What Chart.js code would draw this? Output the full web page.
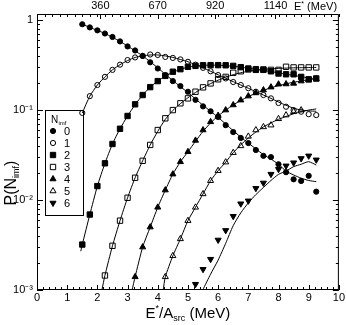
<!DOCTYPE html>
<html lang="en">
<head>
<meta charset="UTF-8">
<title>P(N_imf) vs E*/A_src</title>
<script src="https://cdn.jsdelivr.net/npm/chart.js"></script>
<style>
  html, body { margin: 0; padding: 0; background: #fff; }
  #wrap { width: 346px; height: 325px; }
</style>
</head>
<body>
<div id="wrap"><canvas id="chart" width="346" height="325"></canvas></div>
<script>
// E*/A_src bins (MeV)
const eBins = [1.5, 1.75, 2.0, 2.25, 2.5, 2.75, 3.0, 3.25, 3.5, 3.75, 4.0, 4.25, 4.5, 4.75, 5.0, 5.25,
               5.5, 5.75, 6.0, 6.25, 6.5, 6.75, 7.0, 7.25, 7.5, 7.75, 8.0, 8.25, 8.5, 8.75, 9.0, 9.25];

// measured P(N_imf), one array per N_imf (null = no point)
const p0 = [0.90, 0.83, 0.77, 0.71, 0.65, 0.58, 0.51, 0.46, 0.40, 0.34, 0.29, 0.245, 0.21, 0.185, 0.16, 0.13,
            0.11, 0.097, 0.084, 0.068, 0.057, 0.049, 0.043, 0.036, 0.031, 0.030, 0.025, 0.0204, 0.017, 0.0163, 0.0186, 0.0124];
const p1 = [0.093, 0.143, 0.19, 0.234, 0.28, 0.32, 0.36, 0.385, 0.40, 0.415, 0.41, 0.39, 0.38, 0.366, 0.344, 0.32,
            0.295, 0.27, 0.245, 0.225, 0.205, 0.19, 0.175, 0.16, 0.147, 0.135, 0.12, 0.109, 0.10, 0.096, 0.09, 0.088];
const p2 = [0.0032, 0.0069, 0.0143, 0.0256, 0.042, 0.062, 0.086, 0.116, 0.147, 0.18, 0.21, 0.24, 0.267, 0.285, 0.303, 0.31,
            0.315, 0.316, 0.316, 0.315, 0.31, 0.30, 0.29, 0.28, 0.28, 0.27, 0.255, 0.25, 0.25, 0.234, 0.22, 0.225];
const p3 = [null, null, null, 0.00145, 0.0031, 0.0059, 0.0106, 0.0177, 0.0273, 0.041, 0.06, 0.081, 0.10, 0.119, 0.135, 0.16,
            0.179, 0.198, 0.22, 0.234, 0.26, 0.27, 0.283, 0.285, 0.283, 0.28, 0.28, 0.303, 0.298, 0.298, 0.298, 0.298];
const p4 = [null, null, null, null, null, null, null, 0.0014, 0.003, 0.005, 0.0083, 0.0129, 0.0194, 0.0266, 0.0344, 0.046,
            0.06, 0.074, 0.087, 0.10, 0.114, 0.129, 0.143, 0.155, 0.167, 0.18, 0.194, 0.195, 0.198, 0.21, 0.215, 0.22];
const p5 = [null, null, null, null, null, null, null, null, null, null, null, 0.0014, 0.0024, 0.0037, 0.0059, 0.0083,
            0.0117, 0.0164, 0.0212, 0.0264, 0.0336, 0.040, 0.051, 0.06, 0.065, 0.068, 0.08, 0.088, 0.096, 0.10, null, null];
const p6 = [null, null, null, null, null, null, null, null, null, null, null, null, null, null, null, 0.00116,
            0.0017, 0.0022, 0.0036, 0.0046, 0.0066, 0.0091, 0.0098, 0.0135, 0.0155, 0.0194, 0.022, 0.024, 0.026, 0.029, 0.031, 0.028];

// model curves
const m0x = eBins;
const m0y = [0.90, 0.83, 0.77, 0.71, 0.645, 0.58, 0.515, 0.455, 0.40, 0.345, 0.295, 0.25, 0.213, 0.182, 0.157, 0.133,
             0.113, 0.097, 0.083, 0.07, 0.059, 0.05, 0.043, 0.037, 0.032, 0.0285, 0.025, 0.021, 0.019, 0.0175, 0.0165, 0.016];
const m1x = eBins;
const m1y = [0.093, 0.143, 0.19, 0.234, 0.28, 0.32, 0.355, 0.385, 0.40, 0.41, 0.41, 0.40, 0.385, 0.365, 0.345, 0.32,
             0.295, 0.27, 0.247, 0.226, 0.207, 0.19, 0.175, 0.16, 0.147, 0.135, 0.123, 0.113, 0.105, 0.10, 0.098, 0.097];
const m2x = [1.45, 1.5, 1.75, 2.0, 2.25, 2.5, 2.75, 3.0, 3.25, 3.5, 3.75, 4.0, 4.25, 4.5, 4.75, 5.0, 5.25,
             5.5, 5.75, 6.0, 6.25, 6.5, 6.75, 7.0, 7.25, 7.5, 7.75, 8.0, 8.25, 8.5, 8.75, 9.0, 9.25];
const m2y = [0.0027, 0.0032, 0.0069, 0.0143, 0.0256, 0.042, 0.062, 0.086, 0.115, 0.147, 0.18, 0.21, 0.238, 0.263, 0.284, 0.30, 0.31,
             0.315, 0.316, 0.315, 0.312, 0.307, 0.30, 0.292, 0.284, 0.276, 0.268, 0.259, 0.251, 0.243, 0.235, 0.228, 0.222];
const m3x = [2.15, 2.25, 2.5, 2.75, 3.0, 3.25, 3.5, 3.75, 4.0, 4.25, 4.5, 4.75, 5.0, 5.25,
             5.5, 5.75, 6.0, 6.25, 6.5, 6.75, 7.0, 7.25, 7.5, 7.75, 8.0, 8.25, 8.5, 8.75, 9.0, 9.25];
const m3y = [0.001, 0.00145, 0.0031, 0.0059, 0.0106, 0.0177, 0.0273, 0.041, 0.058, 0.079, 0.099, 0.118, 0.137, 0.157,
             0.177, 0.197, 0.215, 0.232, 0.247, 0.26, 0.27, 0.278, 0.284, 0.288, 0.291, 0.293, 0.295, 0.296, 0.297, 0.298];
const m4x = [3.15, 3.25, 3.5, 3.75, 4.0, 4.25, 4.5, 4.75, 5.0, 5.25,
             5.5, 5.75, 6.0, 6.25, 6.5, 6.75, 7.0, 7.25, 7.5, 7.75, 8.0, 8.25, 8.5, 8.75, 9.0, 9.25];
const m4y = [0.001, 0.0014, 0.003, 0.005, 0.0083, 0.0129, 0.0194, 0.0266, 0.0344, 0.045,
             0.058, 0.072, 0.086, 0.10, 0.114, 0.128, 0.141, 0.154, 0.166, 0.177, 0.187, 0.196, 0.204, 0.211, 0.217, 0.222];
const m5x = [4.18, 4.25, 4.5, 4.75, 5.0, 5.25, 5.5, 5.75, 6.0, 6.25, 6.5, 6.75, 7.0, 7.25, 7.5, 7.75, 8.0, 8.25, 8.5, 8.75, 9.0, 9.25];
const m5y = [0.001, 0.0014, 0.0024, 0.0037, 0.0059, 0.0083, 0.0117, 0.0164, 0.0212, 0.0264, 0.0336, 0.041, 0.049, 0.057,
             0.065, 0.072, 0.079, 0.085, 0.091, 0.096, 0.10, 0.103];
const m6x = [5.49, 5.75, 6.0, 6.25, 6.5, 6.75, 7.0, 7.25, 7.5, 7.75, 8.0, 8.25, 8.5, 8.75, 9.0, 9.25];
const m6y = [0.001, 0.0015, 0.00215, 0.0033, 0.0052, 0.0072, 0.0093, 0.0115, 0.0138, 0.0165, 0.0193, 0.021, 0.0235, 0.025, 0.0267, 0.0245];

// axis ticks
const yTickVals = [0.001, 0.01, 0.1, 1];
const yTickLabels = ['10\u207B\u00B3', '10\u207B\u00B2', '10\u207B\u00B9', '1'];
const topTickPos = [2.1, 4.0, 5.9, 7.9];
const topTickLabels = ['360', '670', '920', '1140'];

const FONT = "'Liberation Sans', Arial, sans-serif";

// marker styles per N_imf
const markers = [
  { n: '0', data: p0, style: 'circle', r: 2.6, filled: true, rot: 0 },
  { n: '1', data: p1, style: 'circle', r: 2.6, filled: false, rot: 0 },
  { n: '2', data: p2, style: 'rect', r: 3.8, filled: true, rot: 0 },
  { n: '3', data: p3, style: 'rect', r: 3.8, filled: false, rot: 0 },
  { n: '4', data: p4, style: 'triangle', r: 3.5, filled: true, rot: 0 },
  { n: '5', data: p5, style: 'triangle', r: 3.5, filled: false, rot: 0 },
  { n: '6', data: p6, style: 'triangle', r: 3.5, filled: true, rot: 180 }
];
const models = [[m0x, m0y], [m1x, m1y], [m2x, m2y], [m3x, m3y], [m4x, m4y], [m5x, m5y], [m6x, m6y]];

const datasets = [];
markers.forEach(m => {
  datasets.push({
    label: 'N=' + m.n,
    data: eBins.map((x, i) => ({ x: x, y: m.data[i] })).filter(p => p.y !== null),
    showLine: false,
    pointStyle: m.style,
    pointRadius: m.r,
    rotation: m.rot,
    pointBorderWidth: 1,
    borderColor: '#000',
    backgroundColor: m.filled ? '#000' : 'rgba(0,0,0,0)',
    order: 1
  });
});
models.forEach(([xs, ys], k) => {
  datasets.push({
    label: 'model ' + k,
    data: xs.map((x, i) => ({ x: x, y: ys[i] })),
    showLine: true,
    pointRadius: 0,
    borderColor: '#000',
    borderWidth: 1,
    tension: 0.2,
    order: 2
  });
});

// draws text pieces with sub/superscripts
function richText(ctx, parts, x, y) {
  let w = 0;
  parts.forEach(p => { ctx.font = p.s + 'px ' + FONT; w += ctx.measureText(p.t).width; });
  let cx = x - w / 2;
  parts.forEach(p => {
    ctx.font = p.s + 'px ' + FONT;
    ctx.fillText(p.t, cx, y + (p.dy || 0));
    cx += ctx.measureText(p.t).width;
  });
}

const decorations = {
  id: 'decorations',
  afterDraw(chart) {
    const { ctx, chartArea: a, scales } = chart;
    const x = scales.x, y = scales.y;
    ctx.save();
    ctx.strokeStyle = '#000';
    ctx.fillStyle = '#000';
    ctx.lineWidth = 1;
    ctx.strokeRect(a.left + 0.5, a.top + 0.5, a.width - 1, a.height - 1);

    ctx.beginPath();
    // bottom ticks
    for (let k = 0; k <= 50; k++) {
      const px = Math.round(x.getPixelForValue(k / 5)) + 0.5;
      const len = k % 5 === 0 ? 5 : 3;
      ctx.moveTo(px, a.bottom); ctx.lineTo(px, a.bottom - len);
    }
    // top ticks
    for (let k = 0; k <= 40; k++) {
      const px = Math.round(x.getPixelForValue(k / 4)) + 0.5;
      ctx.moveTo(px, a.top); ctx.lineTo(px, a.top + 3);
    }
    topTickPos.forEach(v => {
      const px = Math.round(x.getPixelForValue(v)) + 0.5;
      ctx.moveTo(px, a.top); ctx.lineTo(px, a.top + 5);
    });
    // log ticks left and right
    for (let d = -3; d <= 0; d++) {
      for (let m = 1; m <= 9; m++) {
        const v = m * Math.pow(10, d);
        if (v > y.max) continue;
        const py = Math.round(y.getPixelForValue(v)) + 0.5;
        const len = m === 1 ? 6 : 3;
        ctx.moveTo(a.left, py); ctx.lineTo(a.left + len, py);
        ctx.moveTo(a.right, py); ctx.lineTo(a.right - len, py);
      }
    }
    ctx.stroke();

    // axis titles
    ctx.textBaseline = 'alphabetic';
    richText(ctx, [{ t: 'E', s: 15 }, { t: '*', s: 9, dy: -7 }, { t: '/A', s: 15 }, { t: 'src', s: 9, dy: 3 }, { t: ' (MeV)', s: 15 }],
      x.getPixelForValue(5.0), 318);
    ctx.save();
    ctx.translate(16, 183);
    ctx.rotate(-Math.PI / 2);
    richText(ctx, [{ t: 'P(N', s: 16 }, { t: 'imf', s: 9, dy: 3 }, { t: ')', s: 16 }], 0, 0);
    ctx.restore();

    // top axis unit
    ctx.textAlign = 'left';
    ctx.font = '11px ' + FONT;
    ctx.fillText('E', 294, 10);
    let w = ctx.measureText('E').width;
    ctx.font = '7px ' + FONT;
    ctx.fillText('*', 294 + w, 6);
    w += ctx.measureText('*').width;
    ctx.font = '11px ' + FONT;
    ctx.fillText(' (MeV)', 294 + w, 10);

    // legend box
    ctx.strokeRect(45.5, 110.5, 38, 105);
    ctx.font = '10px ' + FONT;
    ctx.fillText('N', 51, 123);
    ctx.font = '6px ' + FONT;
    ctx.fillText('imf', 58.5, 125);
    markers.forEach((m, i) => {
      const ly = 131 + i * 12;
      ctx.fillStyle = m.filled ? '#000' : '#fff';
      Chart.helpers.drawPoint(ctx, { pointStyle: m.style, radius: m.r, rotation: m.rot, borderWidth: 1 }, 53, ly);
      ctx.fillStyle = '#000';
      ctx.font = '11px ' + FONT;
      ctx.textBaseline = 'middle';
      ctx.fillText(m.n, 64, ly + 1);
      ctx.textBaseline = 'alphabetic';
    });
    ctx.restore();
  }
};

new Chart(document.getElementById('chart'), {
  type: 'scatter',
  data: { datasets: datasets },
  options: {
    responsive: false,
    animation: false,
    layout: { padding: { left: 0, right: 6, top: 0, bottom: 0 } },
    plugins: { legend: { display: false }, tooltip: { enabled: false } },
    scales: {
      x: {
        type: 'linear', position: 'bottom', min: 0, max: 10,
        ticks: { stepSize: 1, color: '#000', font: { family: FONT, size: 11 }, padding: 1, maxRotation: 0 },
        grid: { display: false, drawTicks: false },
        border: { display: false },
        afterFit: s => { s.height = 35; }
      },
      x2: {
        type: 'linear', position: 'top', min: 0, max: 10,
        afterBuildTicks: s => { s.ticks = topTickPos.map(v => ({ value: v })); },
        ticks: { autoSkip: false, maxRotation: 0, color: '#000', font: { family: FONT, size: 11 }, padding: 1,
                 callback: (v, i) => topTickLabels[i] },
        grid: { display: false, drawTicks: false },
        border: { display: false },
        afterFit: s => { s.height = 14; }
      },
      y: {
        type: 'logarithmic', min: 0.001, max: 1.17,
        afterBuildTicks: s => { s.ticks = yTickVals.map(v => ({ value: v })); },
        ticks: { autoSkip: false, color: '#000', font: { family: FONT, size: 11 }, padding: 4,
                 callback: (v, i) => yTickLabels[i] },
        grid: { display: false, drawTicks: false },
        border: { display: false },
        afterFit: s => { s.width = 37; }
      }
    }
  },
  plugins: [decorations]
});
</script>
</body>
</html>
